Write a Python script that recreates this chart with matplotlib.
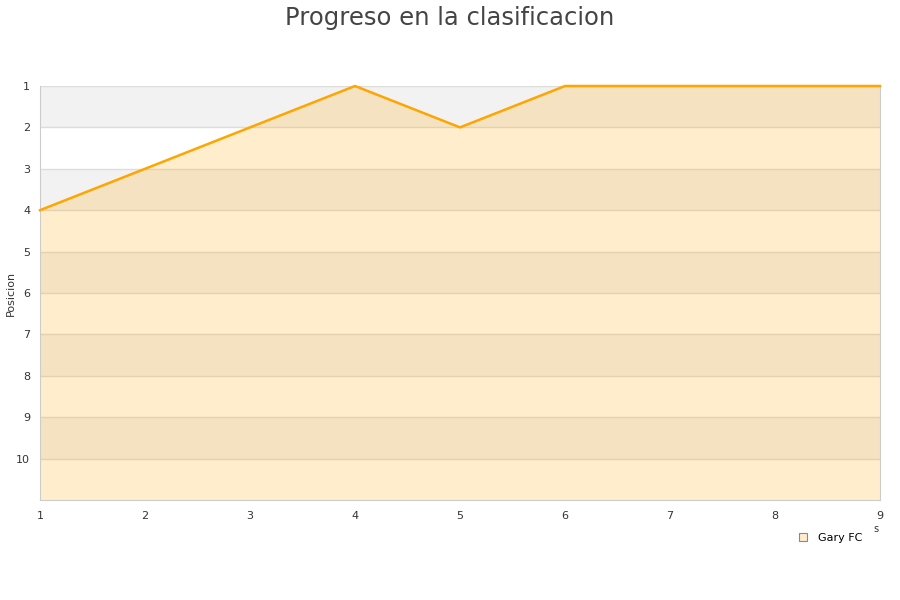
import matplotlib
matplotlib.use("Agg")
import matplotlib.pyplot as plt
from matplotlib.lines import Line2D

jornadas = [1, 2, 3, 4, 5, 6, 7, 8, 9]
posicion = [4, 3, 2, 1, 2, 1, 1, 1, 1]
equipo = "Gary FC"
y_ticks = [1, 2, 3, 4, 5, 6, 7, 8, 9, 10]

LINE = "#ffa500"
GRID = "#dddddd"

fig = plt.figure(figsize=(9, 6), dpi=100)
ax = fig.add_axes([40/900, 1-500/600, 840/900, 414/600])

# bandas alternas de fondo
for k in range(1, 11, 2):
    ax.axhspan(k, k+1, color="#f2f2f2", lw=0, zorder=0)

ax.fill_between(jornadas, posicion, 11, color=LINE, alpha=0.2, lw=0, zorder=1)
ax.plot(jornadas, posicion, color=LINE, lw=1.8, zorder=3, clip_on=False)

ax.set_xlim(1, 9)
ax.set_ylim(11, 1)
ax.set_xticks(jornadas)
ax.set_yticks(y_ticks)
ax.tick_params(length=0, labelsize=8, colors="#333333", pad=8)
ax.tick_params(axis="y", pad=7)
ax.grid(axis="y", color=GRID, lw=1, zorder=0.5)
ax.set_axisbelow(True)
for s in ["left", "bottom", "right"]:
    ax.spines[s].set_color("#cccccc")
ax.spines["top"].set_visible(False)

fig.text(11/900, 1-293/600, "Posicion", fontsize=8, color="#333333",
         rotation=90, ha="center", va="center")
fig.suptitle("Progreso en la clasificacion", fontsize=17.5, color="#444444", y=0.99)

h = Line2D([], [], marker="s", ls="none", markersize=6,
           markerfacecolor="#ffedcc", markeredgecolor="#888888", markeredgewidth=0.8)
fig.legend([h], [equipo], loc="center", bbox_to_anchor=(0.919, 0.103),
           frameon=False, fontsize=8, handletextpad=0.4)
fig.text(0.971, 0.113, "s", fontsize=7, color="#333333")

fig.savefig("out.png", dpi=100)
